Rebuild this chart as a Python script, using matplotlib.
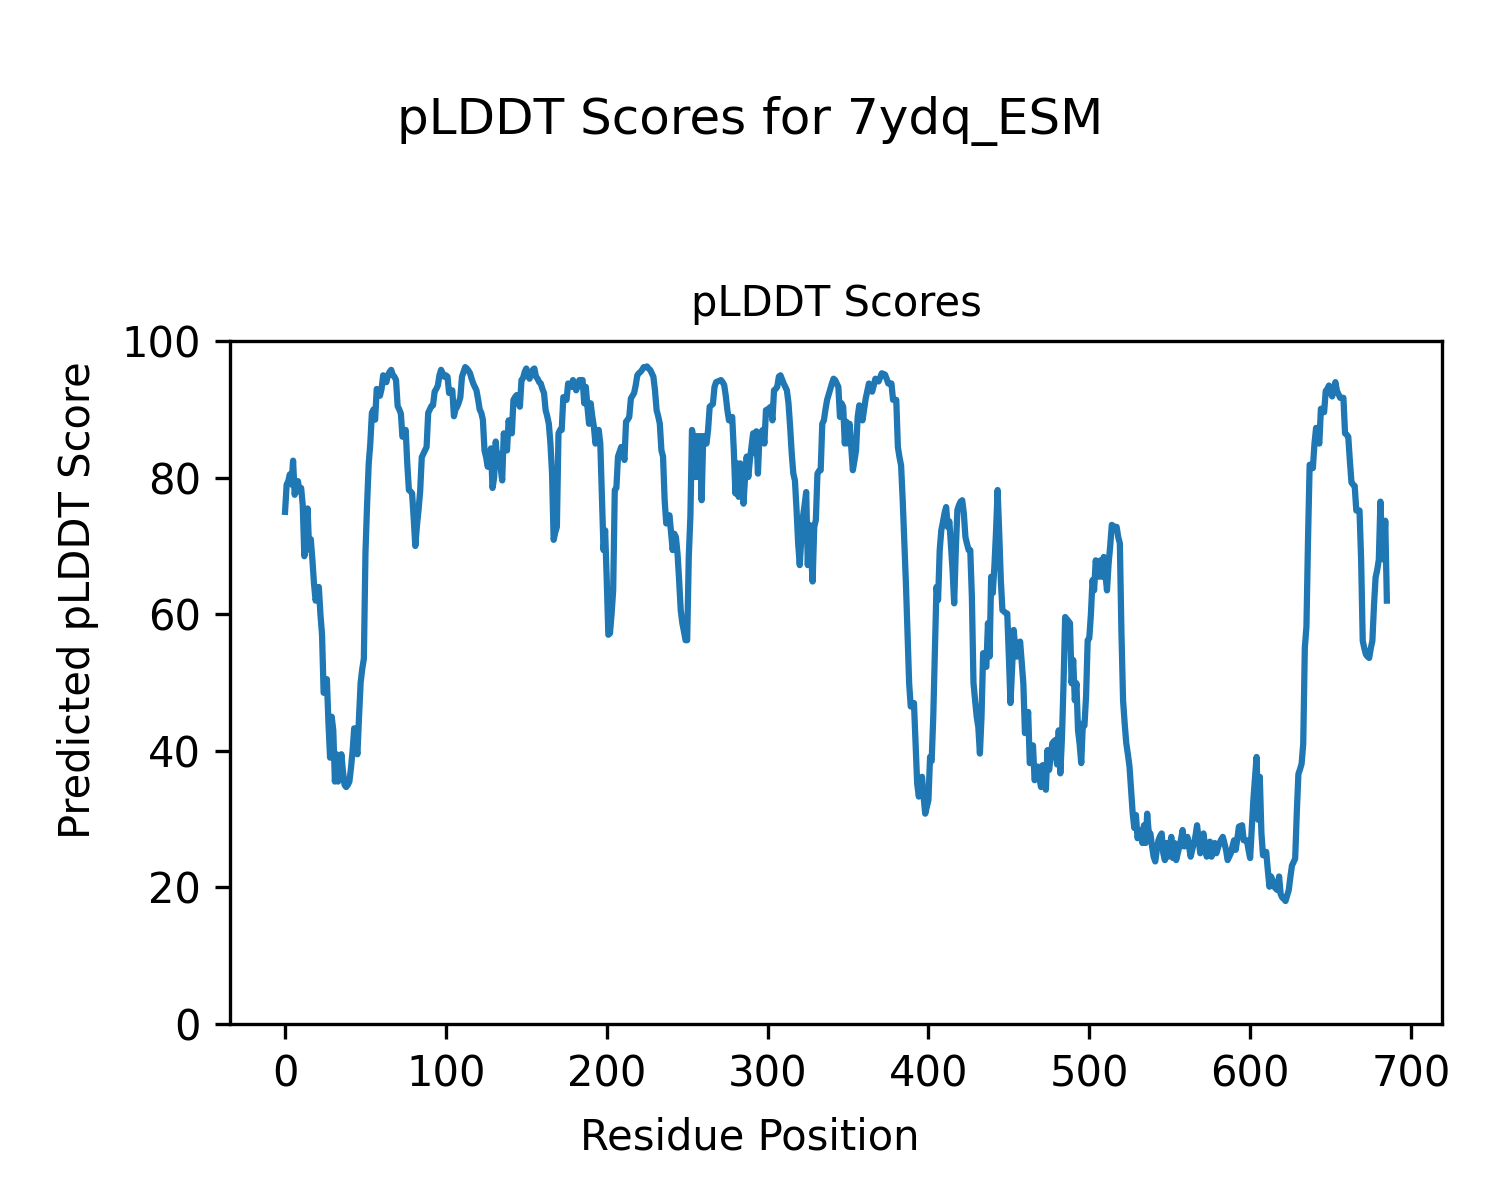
import matplotlib
matplotlib.use("Agg")
import matplotlib.pyplot as plt

# per-residue pLDDT scores (residues 0..685)
plddt = [
    75, 79, 79.5, 80.5, 79, 82.5, 77.5, 79, 79.5, 78,            # 0
    78.5, 76, 68.5, 70, 75.5, 69.5, 71, 68, 64.5, 62,            # 10
    63, 64, 60, 57, 48.5, 49, 50.5, 44, 39, 45,                  # 20
    43, 35.5, 39.5, 35.5, 37, 39.5, 37, 35, 34.7, 35,            # 30
    35.5, 37.5, 40, 43.3, 41, 39.5, 45, 50, 52, 53.5,            # 40
    69, 76, 82, 85, 89.5, 90, 88.5, 93, 92.5, 92,                # 50
    93, 95, 94, 94, 95, 95.5, 95.8, 95, 94.8, 94.3,              # 60
    90.5, 90, 89.4, 86, 86.5, 87, 82, 78.2, 78, 77.7,            # 70
    74, 70, 73, 75.3, 78, 83, 83.5, 84, 84.5, 89.5,              # 80
    90, 90.5, 90.6, 92.6, 93, 93.5, 95, 95.8, 95.3, 94.8,        # 90
    95, 94.8, 92.4, 92.6, 92.8, 89, 90, 90.4, 91, 91.8,          # 100
    94.8, 95.5, 96.2, 96, 95.7, 95.3, 94.5, 93.8, 93.3, 92.8,    # 110
    91.5, 90, 89.5, 88.5, 84, 83, 81.6, 82.5, 84.3, 78.5,        # 120
    80, 85.3, 82.1, 83.5, 81.5, 79.6, 86.5, 85, 84, 88.4,        # 130
    87, 86.5, 91.4, 91.8, 92.1, 91, 90.4, 94.3, 94.6, 95.5,      # 140
    96, 95, 94.5, 95.3, 95.8, 96, 94.8, 94.5, 94, 93.8,          # 150
    93, 92.4, 89.9, 89, 87.9, 85, 80.6, 70.9, 72, 72.8,          # 160
    86.5, 87, 87, 91.8, 91.8, 91.4, 93.8, 93.5, 93.3, 94.3,      # 170
    93.5, 92.8, 93.5, 94.3, 94.3, 94.3, 90.9, 93.3, 90.4, 87.9,  # 180
    90.9, 89, 87.5, 85, 86, 87, 85, 77, 69.4, 72.3,              # 190
    65, 57, 57.2, 60, 63.5, 78.2, 78.5, 83.1, 83.8, 84.5,        # 200
    84, 82.6, 88.2, 88.5, 88.9, 91.6, 92, 92.4, 93.5, 95,        # 210
    95.3, 95.5, 95.8, 96.2, 96.2, 96.3, 96, 95.8, 95.3, 94.8,    # 220
    92.8, 89.9, 89, 87.9, 84, 83.1, 76.7, 73.3, 74, 74.5,        # 230
    72, 69.4, 71.8, 71.3, 68.9, 65, 60.6, 58.7, 57.5, 56.2,      # 240
    56.2, 68.4, 74.3, 87, 85.5, 80.1, 86.1, 80.1, 86.1, 76.7,    # 250
    86.1, 85.5, 85, 87, 90.4, 90.6, 90.8, 93.3, 94, 94.1,        # 260
    94.2, 94.3, 94, 93.6, 92, 89.9, 88.4, 88.6, 88.9, 84,        # 270
    77.7, 82.1, 77.2, 82.1, 80.1, 76.2, 80, 83.1, 80.1, 82.6,    # 280
    84.5, 86.5, 83.6, 86.8, 80.6, 86.5, 86.7, 87, 85, 89.9,      # 290
    90, 90.2, 90.4, 88.4, 92.8, 93, 93.3, 94.8, 95, 94.4,        # 300
    93.8, 93.3, 92.8, 90.9, 87.5, 83.6, 80.6, 79.6, 75.3, 70.4,  # 310
    67.2, 71.3, 74.3, 76, 77.9, 67.2, 73.1, 69, 64.8, 72.8,      # 320
    73.8, 80.6, 81, 81.1, 87.9, 88.4, 90, 91.4, 92.2, 93,        # 330
    93.8, 94.5, 94.3, 93.8, 93.3, 88.9, 90.9, 90.4, 85, 88.2,    # 340
    85, 87.9, 84.5, 81.1, 82.5, 84, 88.9, 90.6, 89.5, 88.4,      # 350
    90, 91.6, 92.7, 93.8, 93.2, 92.6, 93.5, 94.5, 94.3, 94.1,    # 360
    94.7, 95.3, 95.2, 95.1, 94.5, 93.8, 93.8, 93.8, 91.4, 91.4,  # 370
    91.4, 84.5, 83, 81.8, 76.7, 70.4, 64.5, 57.2, 49.9, 46.5,    # 380
    46.8, 47, 41.1, 35.2, 33.3, 34.5, 36.2, 33.3, 30.8, 31.8,    # 390
    32.8, 39.1, 38.5, 45, 54.8, 64, 62.1, 69.4, 72.3, 73.5,      # 400
    74.8, 75.7, 72.8, 73.6, 70, 66.5, 61.6, 69.4, 75.3, 76,      # 410
    76.5, 76.7, 74.8, 71.3, 70.3, 69.4, 69.4, 62.6, 50, 47.4,    # 420
    45, 43.5, 39.6, 45, 54.3, 52.5, 52.3, 58.7, 53.8, 65.5,      # 430
    63.1, 67, 72, 78.2, 72, 65, 60.6, 60.4, 60.2, 60.1,          # 440
    53.8, 47, 52, 57.7, 55, 53.8, 55, 56, 53, 49.9,              # 450
    42.6, 44, 45.7, 38.2, 39, 40.8, 35.7, 36.5, 37.7, 36,        # 460
    34.7, 37.9, 36, 34.3, 40.1, 37.2, 39, 41.1, 41.4, 41.6,      # 470
    38, 43, 36.7, 41.9, 50, 59.6, 59.3, 59, 58.7, 49.9,          # 480
    53.3, 47.4, 49.9, 43, 41, 38.2, 44, 43.7, 48, 56.2,          # 490
    56.5, 60, 65, 63.5, 67.9, 66.5, 65.5, 67.9, 65.5, 68.4,      # 500
    66, 63.5, 67.4, 70, 73.1, 72.9, 72.8, 72.8, 71.3, 70.4,      # 510
    57.2, 47.4, 44, 41.1, 39.5, 37.7, 34.3, 30.8, 28.7, 30.6,    # 520
    27.2, 28, 28.4, 26.5, 29.1, 26.5, 30.8, 27.9, 27.9, 26,      # 530
    24.5, 23.8, 25.5, 26.9, 27.5, 27.9, 25, 24, 26.5, 24.5,      # 540
    26, 27.4, 24.3, 26.5, 24, 25, 26, 27, 28.4, 26,              # 550
    26.5, 27.4, 26, 24.5, 25.5, 26.5, 27.5, 29.1, 27, 25,        # 560
    26.5, 27.9, 26, 24.5, 25.5, 26.7, 24.5, 25.5, 26.5, 25,      # 570
    25.8, 26.5, 27, 27.4, 26.5, 25.5, 24, 24.5, 25, 26,          # 580
    26.9, 25.5, 27, 28.9, 29, 29.1, 26.9, 26.9, 26.9, 25.5,      # 590
    24.3, 28.5, 32.8, 36, 39.1, 29.9, 36.2, 28, 24.7, 25,        # 600
    25.2, 22.5, 20.1, 21.6, 21, 20.1, 19.8, 19.6, 21.6, 19,      # 610
    18.5, 18.3, 18, 18.8, 19.6, 21.5, 23.2, 23.7, 24.2, 30.9,    # 620
    36.6, 37.3, 38.1, 41, 55.1, 58.2, 71.1, 81.9, 81.6, 81.4,    # 630
    85, 87.3, 86, 85, 90.1, 89.8, 89.6, 92.7, 93, 93.5,          # 640
    92.5, 91.9, 93, 94, 92.7, 92.2, 91.7, 91.7, 91.7, 86.5,      # 650
    86.3, 86, 82.5, 79.3, 79, 78.8, 75.2, 75.2, 75.2, 68,        # 660
    56.1, 55, 54.1, 53.8, 53.6, 55, 56.1, 61.3, 65.4, 66.5,      # 670
    68, 76.5, 70, 68, 73.7, 62,                                  # 680
]
residues = list(range(len(plddt)))

fig = plt.figure(figsize=(5, 4), dpi=300)
ax = fig.add_axes([0.1533, 0.1467, 0.808, 0.569])

ax.plot(residues, plddt, color='#1f77b4', linewidth=1.5)
ax.set_ylim(0, 100)
ax.set_title('pLDDT Scores', fontsize=10)
ax.tick_params(labelsize=10)

# figure-level labels (centred on the figure, not on the axes)
fig.supxlabel('Residue Position', fontsize=10, y=0.052, va='center')
fig.supylabel('Predicted pLDDT Score', fontsize=10, x=0.052, ha='center')
fig.suptitle('pLDDT Scores for 7ydq_ESM', fontsize=12, y=0.92)

fig.savefig('out.png', dpi=300)
